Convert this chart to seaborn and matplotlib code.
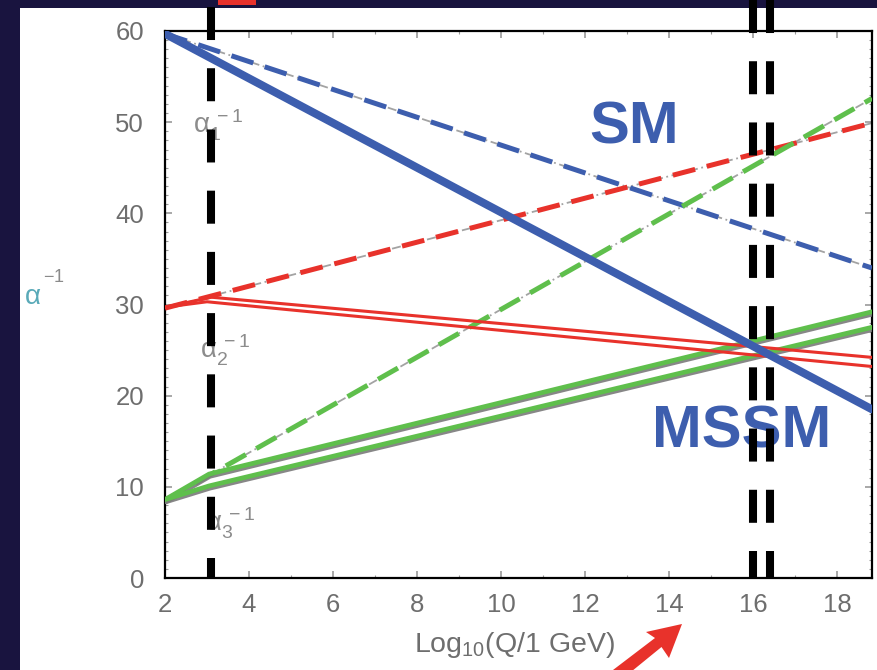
import matplotlib
matplotlib.use("Agg")
import matplotlib.pyplot as plt
import seaborn as sns
import numpy as np
import pandas as pd
from matplotlib.patches import Rectangle, Polygon
from matplotlib.ticker import MultipleLocator
import matplotlib.patheffects as pe

sns.set_style("ticks")
plt.rcParams["font.family"] = ["Liberation Sans", "DejaVu Sans"]
plt.rcParams["mathtext.default"] = "regular"

# ---------------- data ----------------
# x = log10(Q / 1 GeV)
sm_x = [2.0, 18.83]
sm_a1 = [59.7, 34.0]      # SM alpha_1^-1 (blue dashed)
sm_a2 = [29.6, 49.9]      # SM alpha_2^-1 (red dashed)
sm_a3 = [8.5, 52.6]       # SM alpha_3^-1 (green dashed)

mssm_x_a1 = [2.0, 18.83]
mssm_a1 = [59.7, 18.5]                # MSSM alpha_1^-1 (blue solid)
mssm_x_a2_hi = [2.0, 3.1, 18.83]
mssm_a2_hi = [29.7, 30.8, 24.2]       # MSSM alpha_2^-1 upper (red)
mssm_x_a2_lo = [2.0, 3.0, 18.83]
mssm_a2_lo = [29.7, 30.3, 23.2]       # MSSM alpha_2^-1 lower (red)
mssm_x_a3 = [2.0, 3.05, 18.83]
mssm_a3_hi = [8.6, 11.4, 29.2]        # MSSM alpha_3^-1 upper (green)
mssm_a3_lo = [8.6, 10.1, 27.5]        # MSSM alpha_3^-1 lower (green)

thresholds = [3.1, 16.0, 16.4]        # vertical dashed markers

x_ticks = [2, 4, 6, 8, 10, 12, 14, 16, 18]
y_ticks = [0, 10, 20, 30, 40, 50, 60]

BLUE = "#3d5eae"
RED = "#e8322b"
GREEN = "#5fbf4c"
NAVY = "#19143f"
GRAY = "#8c8c8c"

W, H = 877, 670
fig = plt.figure(figsize=(W / 100, H / 100), dpi=100, facecolor=NAVY)
# white slide panel
fig.patches.append(Rectangle((20 / W, 0), 1 - 20 / W, (H - 8) / H,
                             transform=fig.transFigure, facecolor="white",
                             edgecolor="none", zorder=-10))

L, R, T, B = 165, 872, 31, 578
ax = fig.add_axes([L / W, (H - B) / H, (R - L) / W, (B - T) / H])
ax.set_facecolor("white")
ax.set_zorder(1)


def draw(x, y, color, lw, dashes=None, underlay=False, shadow=False, z=3):
    if underlay:
        sns.lineplot(x=x, y=y, ax=ax, color=GRAY, lw=1.3, sort=False,
                     estimator=None, zorder=z - 0.5, alpha=0.8)
        ax.lines[-1].set_dashes([5, 2, 1, 2])
    kw = {}
    if shadow:
        kw["path_effects"] = [pe.SimpleLineShadow(offset=(0.6, -1.6),
                                                  shadow_color="#7a7a7a",
                                                  alpha=0.9),
                              pe.Normal()]
    sns.lineplot(x=x, y=y, ax=ax, color=color, lw=lw, sort=False,
                 estimator=None, zorder=z, **kw)
    if dashes is not None:
        ax.lines[-1].set_dashes(dashes)


# SM (dashed)
draw(sm_x, sm_a1, BLUE, 3.6, dashes=[4.6, 2.4], underlay=True)
draw(sm_x, sm_a2, RED, 3.6, dashes=[4.6, 2.4], underlay=True)
draw(sm_x, sm_a3, GREEN, 3.6, dashes=[4.6, 2.4], underlay=True)

# MSSM (solid)
draw(mssm_x_a3, mssm_a3_hi, GREEN, 3.4, shadow=True, z=4)
draw(mssm_x_a3, mssm_a3_lo, GREEN, 3.4, shadow=True, z=4)
draw(mssm_x_a2_hi, mssm_a2_hi, RED, 2.2, z=4.2)
draw(mssm_x_a2_lo, mssm_a2_lo, RED, 2.2, z=4.2)
draw(mssm_x_a1, mssm_a1, BLUE, 5.8, z=4.5)

ax.set_xlim(2, 18.83)
ax.set_ylim(0, 60)
ax.set_xticks(x_ticks)
ax.set_yticks(y_ticks)
ax.xaxis.set_minor_locator(MultipleLocator(1))
ax.yaxis.set_minor_locator(MultipleLocator(1))
ax.tick_params(which="both", direction="in", top=True, right=True,
               color="#9a9a9a", labelcolor="#6e6e6e", labelsize=18.5)
ax.tick_params(which="major", length=5, width=1.2)
ax.tick_params(which="minor", length=2.5, width=0.8)
ax.tick_params(axis="y", pad=15)
ax.tick_params(axis="x", pad=11)
for s in ax.spines.values():
    s.set_color("black")
    s.set_linewidth(1.6)
ax.set_xlabel("")
ax.set_ylabel("")

# coupling labels
lab_kw = dict(color=GRAY, fontsize=20, ha="left", va="center", zorder=2)
ax.text(2.67, 49.6, r"$\alpha_1^{\,-1}$", **lab_kw)
ax.text(2.83, 25.0, r"$\alpha_2^{\,-1}$", **lab_kw)
ax.text(2.95, 6.0, r"$\alpha_3^{\,-1}$", **lab_kw)

# SM / MSSM labels
ax.text(13.17, 49.4, "SM", color=BLUE, fontsize=43, fontweight="bold",
        ha="center", va="center", zorder=5)
ax.text(15.72, 16.0, "MSSM", color=BLUE, fontsize=43, fontweight="bold",
        ha="center", va="center", zorder=5)

# vertical black dashed markers (drawn from the top down)
tr = ax.get_xaxis_transform()
tops = [(B - 7) / (B - T), B / (B - T), B / (B - T)]
for xv, tp in zip(thresholds, tops):
    ln, = ax.plot([xv, xv], [tp, 0], transform=tr, color="black", lw=5.8,
                  clip_on=False, zorder=10, solid_capstyle="butt",
                  dash_capstyle="butt")
    ln.set_dashes([4.1, 3.5])

# axis titles
fig.text(514 / W, 1 - 645 / H, r"Log$_{10}$(Q/1 GeV)", color="#6e6e6e",
         fontsize=20.5, ha="center", va="center")
fig.text(33 / W, 1 - 297 / H, r"$\alpha$", color="#5aaab8", fontsize=20,
         ha="center", va="center")
fig.text(54 / W, 1 - 278 / H, r"$-1$", color="#8a8a8a", fontsize=13,
         ha="center", va="center")

# red arrow fragments (slide decoration)
fig.patches.append(Rectangle((218 / W, 1 - 5 / H), 38 / W, 5 / H,
                             transform=fig.transFigure, facecolor=RED,
                             edgecolor="none", zorder=20))
arrow_px = [(682, 624), (669, 658), (661.5, 647), (621, 680), (613, 670),
            (655, 638), (646, 632)]
fig.patches.append(Polygon([(px / W, 1 - py / H) for px, py in arrow_px],
                           closed=True, transform=fig.transFigure,
                           facecolor=RED, edgecolor="none", zorder=20))

fig.savefig("out.png", dpi=100, facecolor=NAVY)
